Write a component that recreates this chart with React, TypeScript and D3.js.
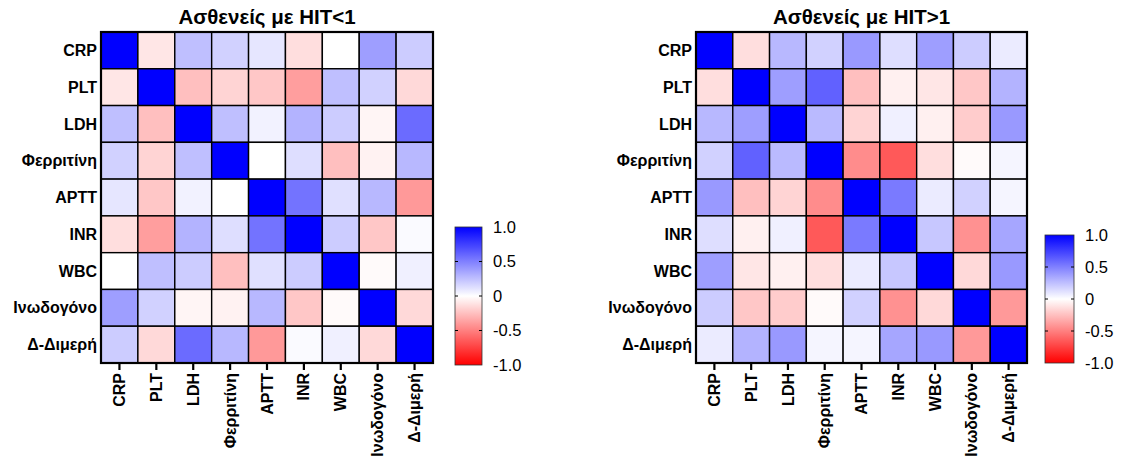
import React from "react";
import * as d3 from "d3";

const variables = ["CRP", "PLT", "LDH", "Φερριτίνη", "APTT", "INR", "WBC", "Ινωδογόνο", "Δ-Διμερή"];

const titleLow = "Ασθενείς με HIT<1";
const titleHigh = "Ασθενείς με HIT>1";

const hitLow: number[][] = [
  [1, -0.1, 0.25, 0.18, 0.1, -0.13, 0, 0.38, 0.2],
  [-0.1, 1, -0.25, -0.17, -0.22, -0.38, 0.25, 0.18, -0.15],
  [0.25, -0.25, 1, 0.25, 0.05, 0.3, 0.2, -0.04, 0.58],
  [0.18, -0.17, 0.25, 1, 0, 0.13, -0.25, -0.05, 0.28],
  [0.1, -0.22, 0.05, 0, 1, 0.55, 0.12, 0.28, -0.4],
  [-0.13, -0.38, 0.3, 0.13, 0.55, 1, 0.2, -0.22, 0.02],
  [0, 0.25, 0.2, -0.25, 0.12, 0.2, 1, -0.02, 0.06],
  [0.38, 0.18, -0.04, -0.05, 0.28, -0.22, -0.02, 1, -0.15],
  [0.2, -0.15, 0.58, 0.28, -0.4, 0.02, 0.06, -0.15, 1],
];

const hitHigh: number[][] = [
  [1, -0.13, 0.28, 0.18, 0.4, 0.13, 0.38, 0.2, 0.08],
  [-0.13, 1, 0.38, 0.62, -0.25, -0.06, -0.1, -0.22, 0.3],
  [0.28, 0.38, 1, 0.27, -0.17, 0.06, -0.06, -0.2, 0.4],
  [0.18, 0.62, 0.27, 1, -0.45, -0.65, -0.13, -0.02, 0.04],
  [0.4, -0.25, -0.17, -0.45, 1, 0.52, 0.08, 0.18, 0.04],
  [0.13, -0.06, 0.06, -0.65, 0.52, 1, 0.22, -0.43, 0.35],
  [0.38, -0.1, -0.06, -0.13, 0.08, 0.22, 1, -0.15, 0.4],
  [0.2, -0.22, -0.2, -0.02, 0.18, -0.43, -0.15, 1, -0.4],
  [0.08, 0.3, 0.4, 0.04, 0.04, 0.35, 0.4, -0.4, 1],
];

const barTicks = [1, 0.5, 0, -0.5, -1];
const barTickLabels = ["1.0", "0.5", "0", "-0.5", "-1.0"];

const FONT = "'Liberation Sans', Arial, Helvetica, sans-serif";

const color = d3
  .scaleLinear<string>()
  .domain([-1, 0, 1])
  .range(["#ff0000", "#ffffff", "#0000ff"])
  .interpolate(d3.interpolateRgb);

type HeatProps = {
  id: string;
  title: string;
  values: number[][];
  left: number;
  right: number;
  top: number;
  bottom: number;
  barX: number;
  barW: number;
  barTop: number;
  barBottom: number;
};

function Heatmap(p: HeatProps) {
  const x = d3.scaleBand<string>().domain(variables).range([p.left, p.right]);
  const y = d3.scaleBand<string>().domain(variables).range([p.top, p.bottom]);
  const cb = d3.scaleLinear().domain([-1, 1]).range([p.barBottom, p.barTop]);
  const gradStops = d3.range(0, 1.0001, 0.05);
  const gid = `grad-${p.id}`;
  return (
    <g>
      <defs>
        <linearGradient id={gid} x1="0" y1="1" x2="0" y2="0">
          {gradStops.map((t) => (
            <stop key={t} offset={t} stopColor={color(-1 + 2 * t)} />
          ))}
        </linearGradient>
      </defs>
      <text
        x={(p.left + p.right) / 2}
        y={24}
        textAnchor="middle"
        fontFamily={FONT}
        fontWeight="bold"
        fontSize={20.5}
      >
        {p.title}
      </text>
      {p.values.map((row, i) =>
        row.map((v, j) => (
          <rect
            key={`${i}-${j}`}
            x={x(variables[j])!}
            y={y(variables[i])!}
            width={x.bandwidth()}
            height={y.bandwidth()}
            fill={color(v)}
            stroke="#000"
            strokeWidth={1.4}
          />
        ))
      )}
      <rect
        x={p.left}
        y={p.top}
        width={p.right - p.left}
        height={p.bottom - p.top}
        fill="none"
        stroke="#000"
        strokeWidth={2.2}
      />
      {variables.map((name) => (
        <text
          key={`yl-${name}`}
          x={p.left - 4}
          y={y(name)! + y.bandwidth() / 2}
          dy="0.35em"
          textAnchor="end"
          fontFamily={FONT}
          fontWeight="bold"
          fontSize={16}
        >
          {name}
        </text>
      ))}
      {variables.map((name) => {
        const cx = x(name)! + x.bandwidth() / 2;
        return (
          <g key={`xl-${name}`}>
            <line x1={cx} x2={cx} y1={p.bottom} y2={p.bottom + 7} stroke="#000" strokeWidth={2.2} />
            <text
              transform={`translate(${cx},${p.bottom + 10}) rotate(-90)`}
              dy="0.35em"
              textAnchor="end"
              fontFamily={FONT}
              fontWeight="bold"
              fontSize={16}
            >
              {name}
            </text>
          </g>
        );
      })}
      <rect
        x={p.barX}
        y={p.barTop}
        width={p.barW}
        height={p.barBottom - p.barTop}
        fill={`url(#${gid})`}
        stroke="#333"
        strokeWidth={0.8}
      />
      {barTicks.map((t, k) => (
        <g key={`bt-${k}`}>
          {t !== 1 && t !== -1 && (
            <>
              <line x1={p.barX} x2={p.barX + 3} y1={cb(t)} y2={cb(t)} stroke="#000" strokeWidth={1} />
              <line x1={p.barX + p.barW - 3} x2={p.barX + p.barW} y1={cb(t)} y2={cb(t)} stroke="#000" strokeWidth={1} />
            </>
          )}
          <text
            x={p.barX + p.barW + 11}
            y={cb(t)}
            dy="0.35em"
            fontFamily={FONT}
            fontSize={16.5}
          >
            {barTickLabels[k]}
          </text>
        </g>
      ))}
    </g>
  );
}

export default function App() {
  return (
    <svg
      width={1121}
      height={461}
      style={{ position: "absolute", left: 0, top: 0, background: "#fff" }}
    >
      <rect width={1121} height={461} fill="#fff" />
      <Heatmap
        id="low"
        title={titleLow}
        values={hitLow}
        left={101}
        right={433}
        top={32}
        bottom={363}
        barX={455}
        barW={27}
        barTop={227}
        barBottom={365}
      />
      <Heatmap
        id="high"
        title={titleHigh}
        values={hitHigh}
        left={696}
        right={1027}
        top={32}
        bottom={363}
        barX={1045}
        barW={29}
        barTop={235}
        barBottom={363}
      />
    </svg>
  );
}
